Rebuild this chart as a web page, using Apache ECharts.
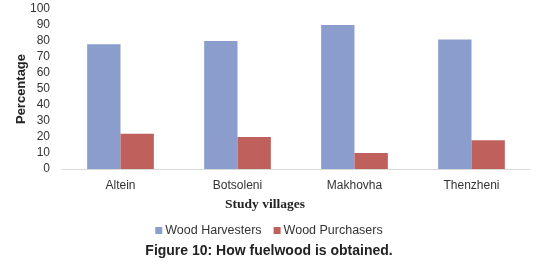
<!DOCTYPE html>
<html>
<head>
<meta charset="utf-8">
<script src="https://cdn.jsdelivr.net/npm/echarts@6/dist/echarts.min.js"></script>
<style>
  html, body { margin: 0; padding: 0; background: #fff; }
  #chart { width: 538px; height: 264px; }
</style>
</head>
<body>
<div id="chart"></div>
<script>
// 数据
const villages = ['Altein', 'Botsoleni', 'Makhovha', 'Thenzheni'];
const harvesters = [78, 80, 90, 81];
const purchasers = [22, 20, 10, 18];

function initChart() {
    const myChart = echarts.init(document.getElementById('chart'));

    const option = {
        animation: false,
        title: {
            text: 'Figure 10: How fuelwood is obtained.',
            left: 'center',
            top: 239,
            textStyle: {
                fontFamily: 'Liberation Sans',
                fontSize: 14,
                fontWeight: 'bold',
                color: '#222'
            }
        },
        legend: {
            data: ['Wood Harvesters', 'Wood Purchasers'],
            top: 219,
            left: 'center',
            itemWidth: 7,
            itemHeight: 7,
            itemGap: 12,
            icon: 'rect',
            textStyle: {
                fontFamily: 'Liberation Sans',
                fontSize: 12.5,
                color: '#333',
                padding: [0, 0, 0, -2]
            }
        },
        // Y轴标题（旋转文字）
        graphic: [{
            type: 'text',
            x: 21,
            y: 89,
            rotation: Math.PI / 2,
            style: {
                text: 'Percentage',
                fontFamily: 'Liberation Sans',
                fontSize: 13,
                fontWeight: 'bold',
                fill: '#222',
                align: 'center',
                verticalAlign: 'middle'
            }
        }],
        grid: {
            left: 62,
            right: 8,
            top: 9,
            bottom: 95
        },
        xAxis: {
            type: 'category',
            data: villages,
            name: 'Study villages',
            nameLocation: 'middle',
            nameGap: 29,
            nameTextStyle: {
                fontFamily: 'Liberation Serif',
                fontSize: 13.5,
                fontWeight: 'bold',
                color: '#222',
                padding: [0, 62, 0, 0]
            },
            axisLine: { lineStyle: { color: '#d9d9d9' } },
            axisTick: { show: false },
            axisLabel: {
                fontFamily: 'Liberation Sans',
                fontSize: 12,
                color: '#333',
                margin: 11
            }
        },
        yAxis: {
            type: 'value',
            min: 0,
            max: 100,
            interval: 10,
            axisLine: { show: false },
            axisTick: { show: false },
            splitLine: { show: false },
            axisLabel: {
                fontFamily: 'Liberation Sans',
                fontSize: 12,
                color: '#333',
                margin: 12
            }
        },
        series: [
            {
                name: 'Wood Harvesters',
                type: 'bar',
                data: harvesters,
                barGap: '0%',
                barCategoryGap: '43%',
                itemStyle: { color: '#8b9dcc' }
            },
            {
                name: 'Wood Purchasers',
                type: 'bar',
                data: purchasers,
                itemStyle: { color: '#c0605c' }
            }
        ]
    };

    myChart.setOption(option);
}

window.onload = initChart;
</script>
</body>
</html>
